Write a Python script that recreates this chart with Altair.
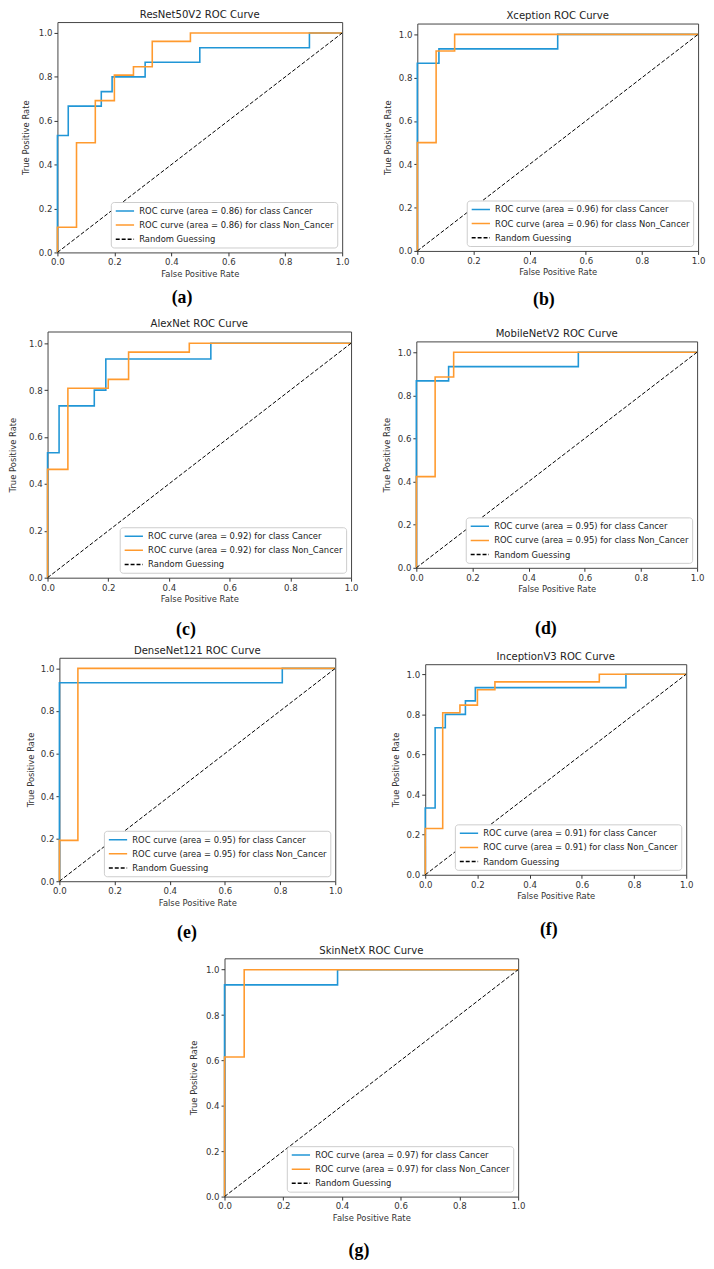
import altair as alt
import pandas as pd

# seven models, one ROC panel each
models = ["ResNet50V2", "Xception", "AlexNet", "MobileNetV2", "DenseNet121", "InceptionV3", "SkinNetX"]
captions = ["(a)", "(b)", "(c)", "(d)", "(e)", "(f)", "(g)"]
areas = ["0.86", "0.96", "0.92", "0.95", "0.95", "0.91", "0.97"]

# ROC vertices (step-after): class Cancer
cancer_fpr = [
    [0, 0, 0.038, 0.154, 0.192, 0.308, 0.5, 0.885, 1.0],
    [0, 0, 0.077, 0.5, 1.0],
    [0, 0, 0.038, 0.154, 0.192, 0.538, 1.0],
    [0, 0, 0.115, 0.577, 1.0],
    [0, 0, 0.808, 1.0],
    [0, 0, 0.038, 0.077, 0.154, 0.192, 0.769, 1.0],
    [0, 0, 0.385, 1.0],
]
cancer_tpr = [
    [0, 0.533, 0.667, 0.733, 0.8, 0.867, 0.933, 1.0, 1.0],
    [0, 0.867, 0.933, 1.0, 1.0],
    [0, 0.533, 0.733, 0.8, 0.933, 1.0, 1.0],
    [0, 0.867, 0.933, 1.0, 1.0],
    [0, 0.933, 1.0, 1.0],
    [0, 0.333, 0.733, 0.8, 0.867, 0.933, 1.0, 1.0],
    [0, 0.933, 1.0, 1.0],
]

# class Non_Cancer
noncancer_fpr = [
    [0, 0, 0.067, 0.133, 0.2, 0.267, 0.333, 0.467, 1.0],
    [0, 0, 0.067, 0.133, 1.0],
    [0, 0, 0.067, 0.2, 0.267, 0.467, 1.0],
    [0, 0, 0.067, 0.133, 1.0],
    [0, 0, 0.067, 1.0],
    [0, 0, 0.067, 0.133, 0.2, 0.267, 0.667, 1.0],
    [0, 0, 0.067, 1.0],
]
noncancer_tpr = [
    [0, 0.115, 0.5, 0.692, 0.808, 0.846, 0.962, 1.0, 1.0],
    [0, 0.5, 0.923, 1.0, 1.0],
    [0, 0.462, 0.808, 0.846, 0.962, 1.0, 1.0],
    [0, 0.423, 0.885, 1.0, 1.0],
    [0, 0.192, 1.0, 1.0],
    [0, 0.231, 0.808, 0.846, 0.923, 0.962, 1.0, 1.0],
    [0, 0.615, 1.0, 1.0],
]

diag_x = [0, 1]
diag_y = [0, 1]
ticks = [0, 0.2, 0.4, 0.6, 0.8, 1.0]

BLUE = "#2196d6"
ORANGE = "#ff9a2e"

# panel plot sizes, caption offsets and y-title padding (pixels)
sizes = [(288, 233), (284, 230), (307, 249), (284, 229), (279, 226), (264, 213), (297, 241)]
cap_pos = [(126, 46), (128, 50), (140, 53), (131, 62), (129, 52), (125, 56), (136, 55)]
ytitle_pad = [8, 5.3, 11, 6.3, 5.3, 5.3, 7.3]


def roc_panel(i):
    w, h = sizes[i]
    lab_c = f"ROC curve (area = {areas[i]}) for class Cancer"
    lab_n = f"ROC curve (area = {areas[i]}) for class Non_Cancer"
    lab_r = "Random Guessing"
    domain = [lab_c, lab_n, lab_r]
    legend = alt.Legend(title=None, orient="bottom-right", offset=5, padding=3,
                        symbolType="M-0.8,0H2.9", symbolSize=100, symbolStrokeWidth=1.5,
                        labelOffset=13.7, rowPadding=3.3)
    color = alt.Color("series:N", legend=legend,
                      scale=alt.Scale(domain=domain, range=[BLUE, ORANGE, "black"]))
    dash = alt.StrokeDash("series:N", legend=legend,
                          scale=alt.Scale(domain=domain, range=[[1, 0], [1, 0], [4, 2]]))
    x = alt.X("fpr:Q", scale=alt.Scale(domain=[0, 1], nice=False),
              axis=alt.Axis(values=ticks, format=".1f", title="False Positive Rate"))
    y = alt.Y("tpr:Q", scale=alt.Scale(domain=[0, 1.05], nice=False),
              axis=alt.Axis(values=ticks, format=".1f", title="True Positive Rate",
                            titlePadding=ytitle_pad[i]))

    df_c = pd.DataFrame({"fpr": cancer_fpr[i], "tpr": cancer_tpr[i], "series": lab_c,
                         "idx": range(len(cancer_fpr[i]))})
    df_n = pd.DataFrame({"fpr": noncancer_fpr[i], "tpr": noncancer_tpr[i], "series": lab_n,
                         "idx": range(len(noncancer_fpr[i]))})
    df_r = pd.DataFrame({"fpr": diag_x, "tpr": diag_y, "series": lab_r, "idx": [0, 1]})

    line_c = alt.Chart(df_c).mark_line(interpolate="step-after", strokeWidth=1.6).encode(
        x=x, y=y, color=color, strokeDash=dash, order="idx:Q")
    line_n = alt.Chart(df_n).mark_line(interpolate="step-after", strokeWidth=1.6).encode(
        x=x, y=y, color=color, strokeDash=dash, order="idx:Q")
    line_r = alt.Chart(df_r).mark_line(strokeWidth=1).encode(
        x=x, y=y, color=color, strokeDash=dash, order="idx:Q")

    cx, cy = cap_pos[i]
    cap = alt.Chart(pd.DataFrame({"cap": [captions[i]]})).mark_text(
        font="Liberation Serif", fontSize=18, fontWeight="bold", align="center", baseline="middle",
        color="black"
    ).encode(text="cap:N", x=alt.value(cx), y=alt.value(h + cy))

    return alt.layer(line_c, line_n, line_r, cap).properties(
        width=w, height=h, title=models[i] + " ROC Curve")


def spacer(w, h, ext):
    # invisible cell; its point fixes how far the row reaches below the plots
    return alt.Chart(pd.DataFrame({"v": [0]})).mark_point(opacity=0, size=1).encode(
        x=alt.value(2), y=alt.value(h + ext)
    ).properties(width=w, height=h, view=alt.ViewBackground(stroke="transparent"))


def row(*items):
    return alt.hconcat(*items, spacing=0, bounds="flush", center=True).resolve_scale(
        color="independent", strokeDash="independent")


p = [roc_panel(i) for i in range(7)]
rows = [
    row(spacer(48, 233, 65.5), p[0], spacer(76, 1, 0), p[1]),
    row(spacer(38, 249, 67), p[2], spacer(66, 1, 0), p[3]),
    row(spacer(50, 226, 64), p[4], spacer(91, 1, 0), p[5]),
    row(spacer(217, 241, 0), p[6]),
]

chart = alt.vconcat(*rows, spacing=0).resolve_scale(
    color="independent", strokeDash="independent"
).properties(
    padding={"left": 0, "top": -6, "right": 0, "bottom": 0}
).configure_view(
    stroke="#444", strokeWidth=1
).configure_title(
    font="DejaVu Sans", fontSize=10.2, fontWeight="normal", color="#222", offset=2
).configure_axis(
    labelFont="DejaVu Sans", labelFontSize=8.7, labelColor="#333", labelPadding=2,
    labelFlush=False, labelOverlap=False,
    titleFont="DejaVu Sans", titleFontSize=8.5, titleFontWeight="normal", titleColor="#333",
    tickColor="#333", tickSize=3.5, domain=False, grid=False
).configure_axisX(titlePadding=3).configure_legend(
    fillColor="white", strokeColor="#cccccc", cornerRadius=3,
    labelFont="DejaVu Sans", labelFontSize=8.5, labelColor="#222", labelLimit=300
)

chart.save("out.html", embed_options={"renderer": "svg", "actions": False})
